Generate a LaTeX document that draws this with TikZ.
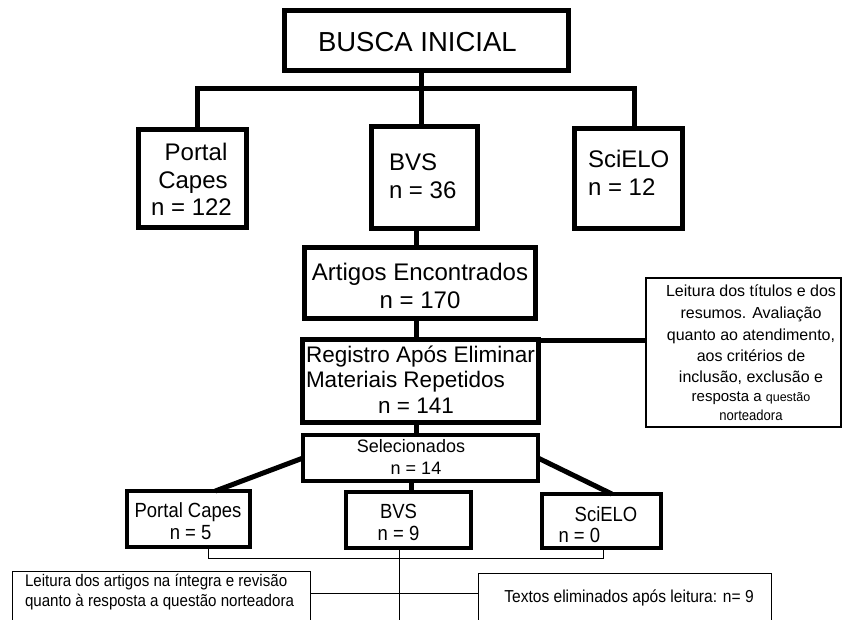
\documentclass[tikz,border=0pt]{standalone}
\usepackage{fontspec}
\setmainfont{Liberation Sans}
\newfontfamily\narrowfont[FakeStretch=0.9]{Liberation Sans}
\newcommand\myfs[1]{\fontsize{#1}{#1}\selectfont}
\tikzset{
  bigbox/.style={draw, rectangle, line width=5pt, inner sep=0pt, outer sep=0pt},
  midbox/.style={draw, rectangle, line width=4pt, inner sep=0pt, outer sep=0pt},
  notebox/.style={draw, rectangle, line width=1.6pt, inner sep=0pt, outer sep=0pt},
  thinbox/.style={draw, rectangle, line width=0.9pt, inner sep=0pt, outer sep=0pt},
  conn/.style={line width=5pt, line join=miter},
  thinconn/.style={line width=0.9pt},
  txt/.style={inner sep=0pt, outer sep=0pt, anchor=base},
  txtw/.style={inner sep=0pt, outer sep=0pt, anchor=base west},
}
\begin{document}
\begin{tikzpicture}[x=1pt,y=-1pt]
\clip (0,0) rectangle (842,619);
\fill[white] (0,0) rectangle (842,619);

% boxes
\node[bigbox, minimum width=284pt, minimum height=60pt] (busca) at (426.4,40.5) {};
\node[bigbox, minimum width=108pt, minimum height=98pt] (portal) at (192.5,178.5) {};
\node[bigbox, minimum width=106pt, minimum height=102pt] (bvs) at (424.3,177.5) {};
\node[bigbox, minimum width=108pt, minimum height=100pt] (scielo) at (628.5,178.5) {};
\node[bigbox, minimum width=231pt, minimum height=71pt] (artigos) at (420,283) {};
\node[bigbox, minimum width=236pt, minimum height=83pt] (registro) at (420.5,381) {};
\node[notebox, minimum width=195pt, minimum height=149pt] (note) at (743.5,352.5) {};
\node[midbox, minimum width=235pt, minimum height=46pt] (selec) at (420.5,458) {};
\node[midbox, minimum width=123pt, minimum height=56pt] (pc2) at (188.3,519) {};
\node[midbox, minimum width=125pt, minimum height=56pt] (bvs2) at (408.5,520) {};
\node[midbox, minimum width=119pt, minimum height=54pt] (sc2) at (601.5,521) {};
\node[thinbox, minimum width=298pt, minimum height=68.5pt] (lb) at (161,605.75) {};
\node[thinbox, minimum width=293pt, minimum height=67pt] (rb) at (625,606.5) {};

% junction coordinates
\coordinate (j0) at (421,88);
\coordinate (jl) at (197,88);
\coordinate (jr) at (634,88);
\coordinate (cx) at (416,0);
\coordinate (hy) at (0,340);
\coordinate (c411) at (411,0);
\coordinate (b1) at (208,558);
\coordinate (b2) at (603,558);
\coordinate (b3) at (399,0);
\coordinate (b4) at (399,640);
\coordinate (h2) at (0,593);

% connectors
\draw[conn] (busca.south -| j0) -- (j0);
\draw[conn] (portal.north -| jl) -- (jl) -- (jr) -- (scielo.north -| jr);
\draw[conn] (j0) -- (bvs.north -| j0);
\draw[conn] (bvs.south -| cx) -- (artigos.north -| cx);
\draw[conn] (artigos.south -| cx) -- (registro.north -| cx);
\draw[conn] (registro.south -| cx) -- (selec.north -| cx);
\draw[conn] (registro.east |- hy) -- (note.west |- hy);
\draw[conn] (selec.west) -- (pc2.46);
\draw[conn] (selec.east) -- (sc2.69);
\draw[conn] (selec.south -| c411) -- (bvs2.north -| c411);
\draw[thinconn] (pc2.south -| b1) -- (b1) -- (b2) -- (sc2.south -| b2);
\draw[thinconn] (bvs2.south -| b3) -- (b4);
\draw[thinconn] (lb.east |- h2) -- (rb.west |- h2);

% texts
\node[txtw] (tbusca) at (318,51) {\myfs{27.5}BUSCA INICIAL};
\node[txt] (tp1) at (196,160) {\myfs{24}Portal};
\node[txt] (tp2) at (193,188) {\myfs{24}Capes};
\node[txt] (tp3) at (191.5,215) {\myfs{24}n = 122};
\node[txtw] (tb1) at (389,170) {\myfs{24}BVS};
\node[txtw] (tb2) at (389,198) {\myfs{24}n = 36};
\node[txtw] (ts1) at (588,167) {\myfs{24}SciELO};
\node[txtw] (ts2) at (588,195) {\myfs{24}n = 12};
\node[txt] (ta1) at (420,280) {\myfs{24}Artigos Encontrados};
\node[txt] (ta2) at (420,308) {\myfs{24}n = 170};
\node[txtw] (tr1) at (306,362) {\myfs{22.5}Registro Após Eliminar};
\node[txtw] (tr2) at (306,387) {\myfs{22.5}Materiais Repetidos};
\node[txt] (tr3) at (416,413) {\myfs{22.5}n = 141};
\node[txt] (tn1) at (751,296) {\myfs{16}Leitura dos títulos e dos};
\node[txt] (tn2) at (751,318) {\myfs{16}resumos. Avaliação};
\node[txt] (tn3) at (751,340) {\myfs{16}quanto ao atendimento,};
\node[txt] (tn4) at (751,361) {\myfs{16}aos critérios de};
\node[txt] (tn5) at (751,382) {\myfs{16}inclusão, exclusão e};
\node[txt] (tn6) at (751,401) {\myfs{15}resposta a \myfs{12.5}questão};
\node[txt] (tn7) at (751,420) {\myfs{14.5}\narrowfont norteadora};
\node[txt] (tse1) at (411,452) {\myfs{18}Selecionados};
\node[txt] (tse2) at (416,474) {\myfs{18}n = 14};
\node[txt] (tq1) at (188,517) {\narrowfont\myfs{20.5}Portal Capes};
\node[txt] (tq2) at (190.6,539) {\narrowfont\myfs{20.5}n = 5};
\node[txt] (tv1) at (398.5,518) {\narrowfont\myfs{20.5}BVS};
\node[txt] (tv2) at (398.5,540) {\narrowfont\myfs{20.5}n = 9};
\node[txt] (tw1) at (606,521) {\narrowfont\myfs{20.5}SciELO};
\node[txtw] (tw2) at (558.5,542) {\narrowfont\myfs{20.5}n = 0};
\node[txtw] (tl1) at (25,586) {\narrowfont\myfs{16.8}Leitura dos artigos na íntegra e revisão};
\node[txtw] (tl2) at (25,606) {\narrowfont\myfs{16.8}quanto à resposta a questão norteadora};
\node[txt] (trb) at (629,602) {\narrowfont\myfs{17.3}Textos eliminados após leitura: n= 9};
\end{tikzpicture}
\end{document}
